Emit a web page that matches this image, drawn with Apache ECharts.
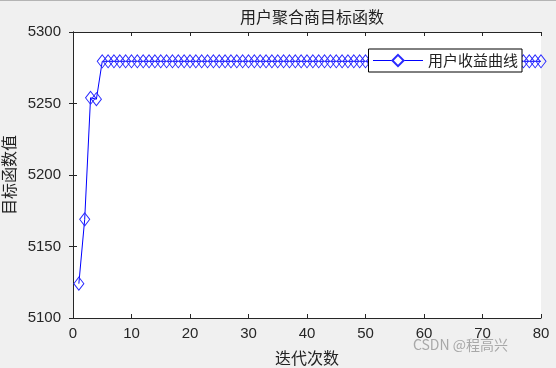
<!DOCTYPE html>
<html><head><meta charset="utf-8">
<script src="https://cdn.jsdelivr.net/npm/echarts@6/dist/echarts.min.js"></script>
<style>html,body{margin:0;padding:0;background:#f0f0f0}#c{width:556px;height:368px}</style>
</head><body><div id="c"></div>
<script>
const title = '用户聚合商目标函数';
const xName = '迭代次数';
const yName = '目标函数值';
const seriesName = '用户收益曲线';
const iterations = [];
for (let i = 1; i <= 80; i++) iterations.push(i);
const values = [5124, 5169, 5254, 5253,
  5279.5,5279.5,5279.5,5279.5,5279.5,5279.5,5279.5,5279.5,5279.5,5279.5,5279.5,5279.5,
  5279.5,5279.5,5279.5,5279.5,5279.5,5279.5,5279.5,5279.5,5279.5,5279.5,5279.5,5279.5,
  5279.5,5279.5,5279.5,5279.5,5279.5,5279.5,5279.5,5279.5,5279.5,5279.5,5279.5,5279.5,
  5279.5,5279.5,5279.5,5279.5,5279.5,5279.5,5279.5,5279.5,5279.5,5279.5,5279.5,5279.5,
  5279.5,5279.5,5279.5,5279.5,5279.5,5279.5,5279.5,5279.5,5279.5,5279.5,5279.5,5279.5,
  5279.5,5279.5,5279.5,5279.5,5279.5,5279.5,5279.5,5279.5,5279.5,5279.5,5279.5,5279.5,
  5279.5,5279.5,5279.5,5279.5];
const xTicks = [0,10,20,30,40,50,60,70,80];
const yTicks = [5100,5150,5200,5250,5300];

const axisColor = '#262626';
const labelFont = {fontFamily:'Liberation Sans, Arial', fontSize:15, color:axisColor};
const cjk = 'Noto Sans CJK SC';
const chart = echarts.init(document.getElementById('c'), null, {renderer:'canvas'});
const common = {
  axisLine:{show:true, lineStyle:{color:axisColor, width:1}},
  axisTick:{show:true, inside:true, length:4, lineStyle:{color:axisColor}},
  splitLine:{show:false}
};
chart.setOption({
  backgroundColor:'#f0f0f0',
  animation:false,
  title:{text:title, left:307, textAlign:'center', top:4,
    textStyle:{fontFamily:cjk, fontSize:16, fontWeight:'normal', color:'#222'}},
  grid:{left:73, right:15, top:32, bottom:50, containLabel:false, outerBoundsMode:'none',
    show:true, backgroundColor:'#fff', borderWidth:0},
  legend:{right:34, top:49, backgroundColor:'#fff', borderColor:'#000', borderWidth:1,
    padding:[4,4,4,4], itemWidth:50, itemHeight:14, itemGap:5,
    lineStyle:{width:1}, itemStyle:{color:'#ffffff'},
    textStyle:{fontFamily:cjk, fontSize:15, color:'#222'},
    data:[seriesName]},
  xAxis:[
    Object.assign({type:'value', min:xTicks[0], max:xTicks[xTicks.length-1], interval:10, position:'bottom',
      name:xName, nameLocation:'middle', nameGap:32,
      nameTextStyle:{fontFamily:cjk, fontSize:16, color:'#222'},
      axisLabel:Object.assign({margin:8}, labelFont)}, common),
    Object.assign({type:'value', min:0, max:80, interval:10, position:'top', axisLabel:{show:false}}, common)
  ],
  yAxis:[
    Object.assign({type:'value', min:yTicks[0], max:yTicks[yTicks.length-1], interval:50, position:'left',
      name:yName, nameLocation:'middle', nameGap:50,
      nameTextStyle:{fontFamily:cjk, fontSize:16, color:'#222'},
      axisLabel:Object.assign({margin:12, formatter:v=>String(v)}, labelFont)}, common),
    Object.assign({type:'value', min:5100, max:5300, interval:50, position:'right', axisLabel:{show:false}}, common)
  ],
  graphic:[
    {type:'rect', shape:{x:0,y:0,width:556,height:1}, style:{fill:'#b4b4b4'}},
    {type:'text', right:48, top:338, style:{text:'CSDN @程高兴', fill:'#a8a8a8', font:'14px "Noto Sans CJK SC"'}}
  ],
  series:[{
    name:seriesName, type:'line',
    data:iterations.map((x,i)=>[x, values[i]]),
    symbol:'diamond', symbolSize:[10,13],
    lineStyle:{color:'#0000ff', width:1},
    itemStyle:{color:'rgba(255,255,255,0)', borderColor:'#2a2aff', borderWidth:1, opacity:1},
    z:3
  }]
});
</script></body></html>
